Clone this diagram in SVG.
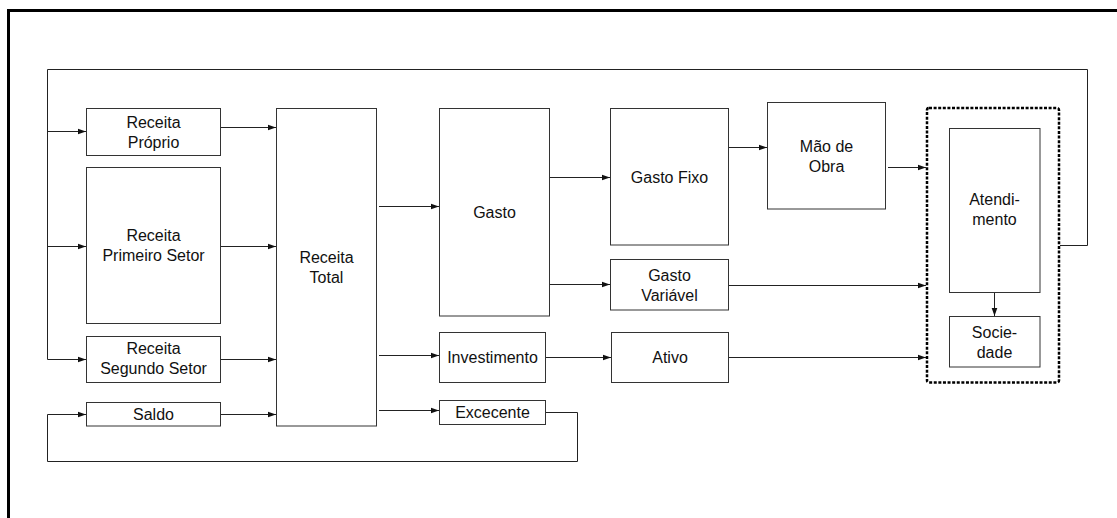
<svg xmlns="http://www.w3.org/2000/svg" width="1117" height="518" viewBox="0 0 1117 518">
<style>
.box{fill:#fff;stroke:#333;stroke-width:1}
.t{font-family:"Liberation Sans",Arial,Helvetica,sans-serif;font-size:16px;fill:#111;text-anchor:middle}
.c{fill:none;stroke:#222;stroke-width:1}
.a{marker-end:url(#ah)}
</style>
<defs>
<marker id="ah" markerUnits="userSpaceOnUse" markerWidth="9" markerHeight="7" refX="8.5" refY="3.5" orient="auto">
<path d="M0,0.5 L8.5,3.5 L0,6.5 z" fill="#111"/>
</marker>
</defs>
<rect width="1117" height="518" fill="#fff"/>
<path d="M8.5,518 V10.5 H1117" fill="none" stroke="#000" stroke-width="3"/>

<g id="receita-proprio"><rect class="box" x="86.5" y="108.5" width="134" height="47"/><text class="t" x="153.5" y="127.5">Receita</text><text class="t" x="153.5" y="147.5">Próprio</text></g>
<g id="receita-primeiro-setor"><rect class="box" x="86.5" y="167.5" width="134" height="156"/><text class="t" x="153.5" y="240.5">Receita</text><text class="t" x="153.5" y="261">Primeiro Setor</text></g>
<g id="receita-segundo-setor"><rect class="box" x="86.5" y="336.5" width="134" height="46"/><text class="t" x="153.5" y="354">Receita</text><text class="t" x="153.5" y="374">Segundo Setor</text></g>
<g id="saldo"><rect class="box" x="86.5" y="402.5" width="134" height="23.5"/><text class="t" x="153.5" y="419.5">Saldo</text></g>
<g id="receita-total"><rect class="box" x="276.5" y="108.5" width="100" height="317.5"/><text class="t" x="326.5" y="262.5">Receita</text><text class="t" x="326.5" y="282.5">Total</text></g>
<g id="gasto"><rect class="box" x="439.5" y="108.5" width="110" height="207.5"/><text class="t" x="494.5" y="217.5">Gasto</text></g>
<g id="investimento"><rect class="box" x="439.5" y="332.5" width="106" height="50"/><text class="t" x="492.5" y="362.5">Investimento</text></g>
<g id="excecente"><rect class="box" x="439.5" y="400.5" width="106" height="24"/><text class="t" x="492.5" y="417.5">Excecente</text></g>
<g id="gasto-fixo"><rect class="box" x="610.5" y="108.5" width="118" height="136.5"/><text class="t" x="669.5" y="182.5">Gasto Fixo</text></g>
<g id="gasto-variavel"><rect class="box" x="610.5" y="259.5" width="118" height="50.5"/><text class="t" x="669.5" y="281">Gasto</text><text class="t" x="669.5" y="301">Variável</text></g>
<g id="ativo"><rect class="box" x="611.5" y="332.5" width="117" height="50"/><text class="t" x="670" y="362.5">Ativo</text></g>
<g id="mao-de-obra"><rect class="box" x="767.5" y="102.5" width="118" height="106.5"/><text class="t" x="826.5" y="152">Mão de</text><text class="t" x="826.5" y="172">Obra</text></g>
<g id="grupo-atendimento"><rect x="927" y="108" width="132" height="274.5" rx="2" fill="none" stroke="#000" stroke-width="2.5" stroke-dasharray="3,1.6"/></g>
<g id="atendimento"><rect class="box" x="949.5" y="128.5" width="90.5" height="164"/><text class="t" x="994.5" y="205">Atendi-</text><text class="t" x="994.5" y="225">mento</text></g>
<g id="sociedade"><rect class="box" x="949.5" y="316.5" width="90.5" height="50.5"/><text class="t" x="994.5" y="337.5">Socie-</text><text class="t" x="994.5" y="357.5">dade</text></g>

<g id="connectors">
<path class="c" d="M1060,245.5 H1087.5 V69.5 H47.5 V359.5"/>
<path class="c a" d="M47.5,131.5 H86"/>
<path class="c a" d="M47.5,246.5 H86"/>
<path class="c a" d="M47.5,359.5 H86"/>
<path class="c a" d="M546,412.5 H577.5 V461.5 H47.5 V414.5 H86"/>
<path class="c a" d="M221,127.5 H276"/>
<path class="c a" d="M221,246.5 H276"/>
<path class="c a" d="M221,359.5 H276"/>
<path class="c a" d="M221,414.5 H276"/>
<path class="c a" d="M379,206.5 H439"/>
<path class="c a" d="M379,355.5 H439"/>
<path class="c a" d="M379,410.5 H439"/>
<path class="c a" d="M550,177.5 H610"/>
<path class="c a" d="M550,284.5 H610"/>
<path class="c a" d="M546,357.5 H611"/>
<path class="c a" d="M729,147.5 H767"/>
<path class="c a" d="M888,167.5 H926"/>
<path class="c a" d="M729,285.5 H926"/>
<path class="c a" d="M729,357.5 H926"/>
<path class="c a" d="M994.5,293 V316"/>
</g>
</svg>
